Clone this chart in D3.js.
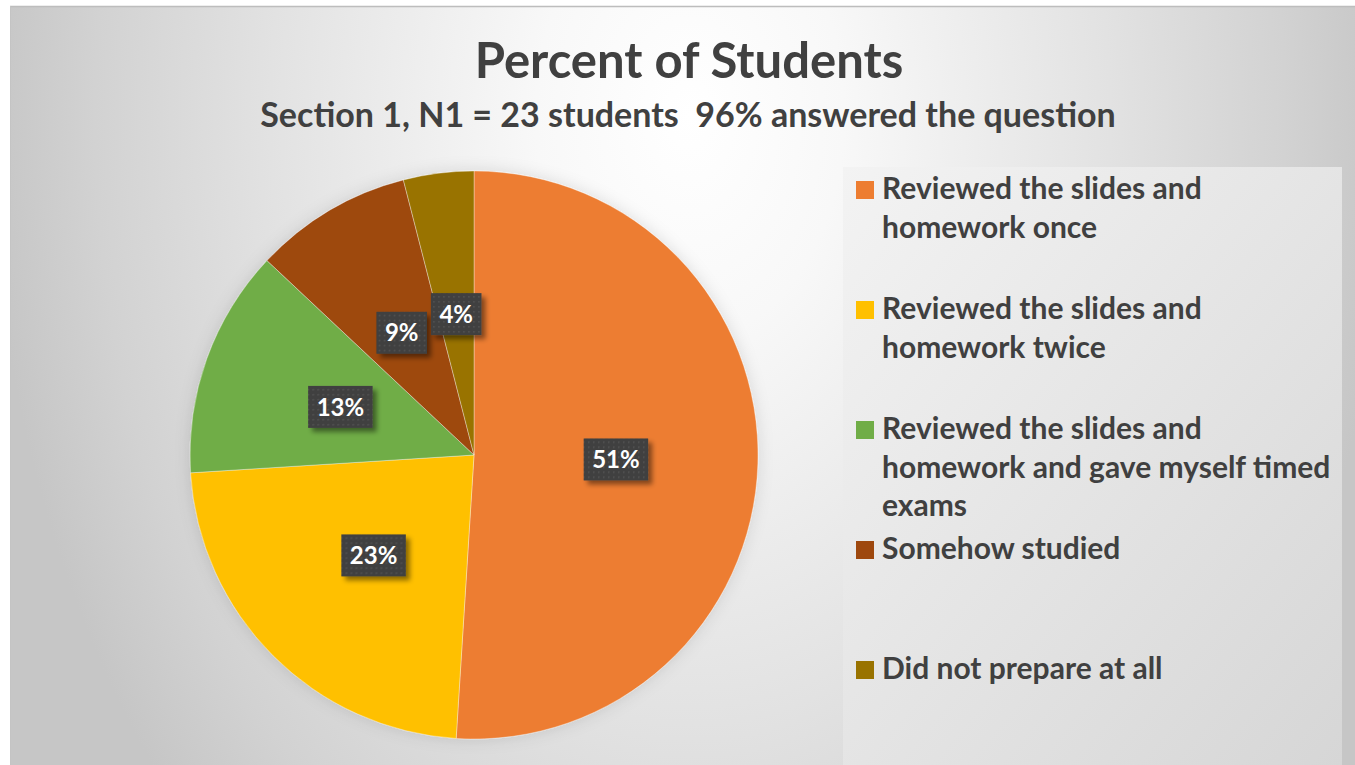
<!DOCTYPE html>
<html>
<head>
<meta charset="utf-8">
<script src="https://cdn.jsdelivr.net/npm/d3@7"></script>
<style>
  html, body { margin: 0; padding: 0; background: #fff; }
  svg { display: block; font-family: Lato, "Open Sans", sans-serif; }
  text { white-space: pre; }
</style>
</head>
<body>
<svg id="chart"></svg>
<script>
// chart data
const categories = [
  'Reviewed the slides and homework once',
  'Reviewed the slides and homework twice',
  'Reviewed the slides and homework and gave myself timed exams',
  'Somehow studied',
  'Did not prepare at all'
];
const values = [51, 23, 13, 9, 4];
const colors = ['#ED7D31', '#FFC000', '#70AD47', '#9E480E', '#997300'];
// legend wraps as in the original
const legendLines = [
  ['Reviewed the slides and', 'homework once'],
  ['Reviewed the slides and', 'homework twice'],
  ['Reviewed the slides and', 'homework and gave myself timed', 'exams'],
  ['Somehow studied'],
  ['Did not prepare at all']
];
const titleText = 'Percent of Students';
const subtitleText = 'Section 1, N1 = 23 students  96% answered the question';

const width = 1355;
const height = 765;
const textColor = '#404040';

const svg = d3.select('#chart')
  .attr('width', width)
  .attr('height', height);

const defs = svg.append('defs');

// background gradient
const bg = defs.append('radialGradient')
  .attr('id', 'bgGrad')
  .attr('gradientUnits', 'userSpaceOnUse')
  .attr('cx', 690).attr('cy', 115).attr('r', 700)
  .attr('gradientTransform', 'translate(690,115) scale(1,1.45) translate(-690,-115)');
[[0, '#ffffff'], [0.22, '#f8f8f8'], [0.6, '#e2e2e2'], [0.85, '#d2d2d2'], [1, '#c6c6c6']]
  .forEach(s => bg.append('stop').attr('offset', s[0]).attr('stop-color', s[1]));

const legGrad = defs.append('linearGradient')
  .attr('id', 'legGrad')
  .attr('x1', 0).attr('y1', 0).attr('x2', 1).attr('y2', 1);
[[0, '#f3f3f3'], [1, '#d6d6d6']]
  .forEach(s => legGrad.append('stop').attr('offset', s[0]).attr('stop-color', s[1]));

// dotted fill for the label boxes
const pat = defs.append('pattern')
  .attr('id', 'dots')
  .attr('patternUnits', 'userSpaceOnUse')
  .attr('width', 5).attr('height', 5);
pat.append('rect').attr('width', 5).attr('height', 5).attr('fill', '#404040');
pat.append('rect').attr('x', 2).attr('y', 2).attr('width', 1.5).attr('height', 1.5).attr('fill', '#555555');

const shadow = defs.append('filter').attr('id', 'shadow')
  .attr('x', '-30%').attr('y', '-30%').attr('width', '160%').attr('height', '160%');
shadow.append('feDropShadow')
  .attr('dx', 4).attr('dy', 4).attr('stdDeviation', 2.5)
  .attr('flood-color', '#000').attr('flood-opacity', 0.45);

const pieGlow = defs.append('filter').attr('id', 'pieGlow')
  .attr('x', '-20%').attr('y', '-20%').attr('width', '140%').attr('height', '140%');
pieGlow.append('feDropShadow')
  .attr('dx', 0).attr('dy', 0).attr('stdDeviation', 8)
  .attr('flood-color', '#000').attr('flood-opacity', 0.12);

// chart area
svg.append('rect')
  .attr('x', 10).attr('y', 6)
  .attr('width', width - 10).attr('height', height - 6)
  .attr('fill', 'url(#bgGrad)');
svg.append('line')
  .attr('x1', 10).attr('x2', width).attr('y1', 6.5).attr('y2', 6.5)
  .attr('stroke', '#bdbdbd').attr('stroke-width', 1.5);
svg.append('line')
  .attr('x1', 10.5).attr('x2', 10.5).attr('y1', 6).attr('y2', height)
  .attr('stroke', '#c4c4c4').attr('stroke-width', 1);

// titles
svg.append('text')
  .attr('x', 689).attr('y', 78)
  .attr('text-anchor', 'middle')
  .attr('font-size', 49).attr('font-weight', 700)
  .attr('fill', textColor)
  .text(titleText);

svg.append('text')
  .attr('x', 688).attr('y', 127)
  .attr('text-anchor', 'middle')
  .attr('font-size', 34).attr('font-weight', 700)
  .attr('fill', textColor)
  .text(subtitleText);

// pie
const radius = 284;
const cx = 474;
const cy = 455;

const pie = d3.pie().sort(null).value(d => d);
const arcs = pie(values);
const arc = d3.arc().innerRadius(0).outerRadius(radius);
const labelArc = d3.arc().innerRadius(0).outerRadius(radius);

const pieG = svg.append('g')
  .attr('transform', `translate(${cx},${cy})`);

pieG.append('g')
  .attr('filter', 'url(#pieGlow)')
  .selectAll('path')
  .data(arcs)
  .join('path')
  .attr('d', arc)
  .attr('fill', (d, i) => colors[i])
  .attr('stroke', 'rgba(255,255,255,0.35)')
  .attr('stroke-width', 1);

// data labels
const labels = pieG.selectAll('g.label')
  .data(arcs)
  .join('g')
  .attr('class', 'label')
  .attr('transform', d => `translate(${labelArc.centroid(d)})`);

labels.each(function (d) {
  const g = d3.select(this);
  const txt = g.append('text')
    .attr('text-anchor', 'middle')
    .attr('dy', '0.36em')
    .attr('font-size', 24).attr('font-weight', 700)
    .attr('fill', '#ffffff')
    .text(d.data + '%');
  const w = txt.node().getComputedTextLength() + 17;
  const h = 42;
  g.insert('rect', 'text')
    .attr('x', -w / 2).attr('y', -h / 2)
    .attr('width', w).attr('height', h)
    .attr('fill', 'url(#dots)')
    .attr('filter', 'url(#shadow)');
});

// legend
const legX = 843;
const legY = 167;
svg.append('rect')
  .attr('x', legX).attr('y', legY)
  .attr('width', 1342 - legX).attr('height', height - legY)
  .attr('fill', 'url(#legGrad)');

const legScale = d3.scalePoint()
  .domain(categories)
  .range([199, 679]);

const legItems = svg.append('g')
  .selectAll('g')
  .data(categories)
  .join('g')
  .attr('transform', d => `translate(856,${legScale(d)})`);

legItems.append('rect')
  .attr('x', 0).attr('y', -18)
  .attr('width', 18).attr('height', 18)
  .attr('fill', (d, i) => colors[i]);

legItems.append('text')
  .attr('x', 26)
  .attr('font-size', 30).attr('font-weight', 700)
  .attr('fill', textColor)
  .selectAll('tspan')
  .data((d, i) => legendLines[i])
  .join('tspan')
  .attr('x', 26)
  .attr('dy', (d, i) => i === 0 ? 0 : 38.7)
  .text(d => d);
</script>
</body>
</html>
